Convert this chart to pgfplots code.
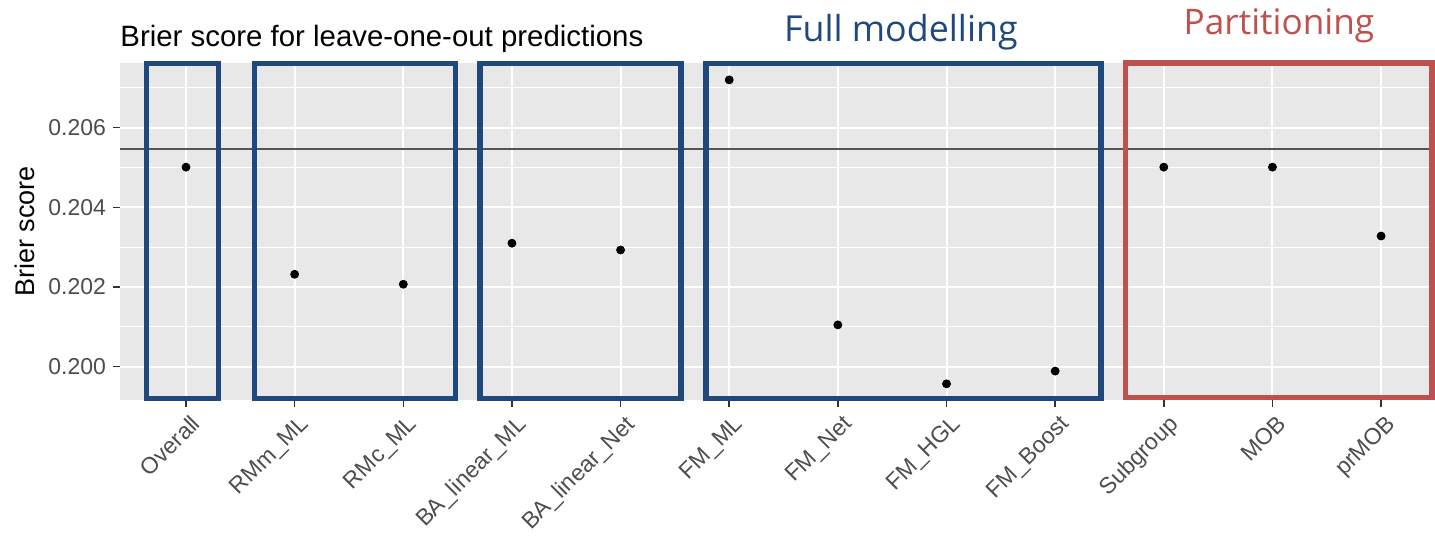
\documentclass[border=0pt]{standalone}
\usepackage{fontspec}
\setmainfont{Liberation Sans}
\newfontfamily\annfont{Open Sans}
\usepackage{pgfplots}
\pgfplotsset{compat=1.18}
\definecolor{panelbg}{HTML}{E8E8E8}
\definecolor{ticktext}{HTML}{4D4D4D}
\definecolor{tickcol}{HTML}{333333}
\definecolor{boxblue}{HTML}{1F497D}
\definecolor{boxred}{HTML}{C0504D}
\definecolor{refline}{HTML}{555555}

\begin{document}
\begin{tikzpicture}
\useasboundingbox (0,0) rectangle (717.5pt,268.5pt);
\begin{axis}[
 at={(60pt,68.5pt)}, anchor=south west,
 scale only axis, width=656.5pt, height=168.5pt,
 xmin=-0.6075, xmax=11.478, ymin=0.199164, ymax=0.207624,
 clip=false,
 axis line style={draw=none},
 axis background/.style={fill=panelbg},
 tick pos=left, tick align=outside,
 major tick length=3.5pt, minor tick length=0pt,
 every tick/.style={tickcol, line width=0.75pt},
 xtick={0,...,11},
 xticklabels={Overall,RMm\_ML,RMc\_ML,BA\_linear\_ML,BA\_linear\_Net,FM\_ML,FM\_Net,FM\_HGL,FM\_Boost,Subgroup,MOB,prMOB},
 ytick={0.200,0.202,0.204,0.206},
 minor ytick={0.201,0.203,0.205,0.207},
 ymajorgrids, yminorgrids, xmajorgrids,
 major grid style={white, line width=1pt},
 minor grid style={white, line width=0.5pt},
 yticklabel style={ticktext, font=\fontsize{11.5}{13}\selectfont},
 xticklabel style={ticktext, font=\fontsize{11.5}{13}\selectfont, rotate=45, anchor=north east, inner sep=1pt, yshift=-2.5pt},
 /pgf/number format/.cd, fixed, fixed zerofill, precision=3, assume math mode=true,
]
\addplot[refline, line width=1pt, forget plot] coordinates {(-0.6075,0.20547) (11.478,0.20547)};
\addplot[only marks, mark=*, mark size=2pt, black] coordinates {
 (0,0.20501) (1,0.20232) (2,0.20207) (3,0.20310) (4,0.20293) (5,0.20720)
 (6,0.20105) (7,0.19957) (8,0.19989) (9,0.20501) (10,0.20501) (11,0.20328)};
% group boxes
\draw[boxblue, line width=2.65pt] (axis cs:-0.364,0.207610) rectangle (axis cs:0.299,0.199195);
\draw[boxblue, line width=2.65pt] (axis cs:0.631,0.207610) rectangle (axis cs:2.481,0.199195);
\draw[boxblue, line width=2.65pt] (axis cs:2.706,0.207610) rectangle (axis cs:4.556,0.199195);
\draw[boxblue, line width=2.65pt] (axis cs:4.786,0.207610) rectangle (axis cs:8.422,0.199195);
\draw[boxred, line width=2.9pt] (axis cs:8.648,0.207630) rectangle (axis cs:11.465,0.199227);
% texts
\node[anchor=base west, inner sep=0pt, font=\fontsize{14.7}{16}\selectfont] at ([yshift=8.25pt]rel axis cs:0,1) {Brier score for leave-one-out predictions};
\node[rotate=90, inner sep=0pt, font=\fontsize{13.5}{15}\selectfont] at ([xshift=-47.5pt]rel axis cs:0,0.5) {Brier score};
\node[anchor=base, inner sep=0pt, text=boxblue, font=\annfont\fontsize{17.9}{20}\selectfont] at ([yshift=10.65pt]axis cs:6.58,0.207624) {Full modelling};
\node[anchor=base, inner sep=0pt, text=boxred, font=\annfont\fontsize{17.6}{20}\selectfont] at ([yshift=14.5pt]axis cs:10.06,0.207624) {Partitioning};
\end{axis}
\end{tikzpicture}
\end{document}
